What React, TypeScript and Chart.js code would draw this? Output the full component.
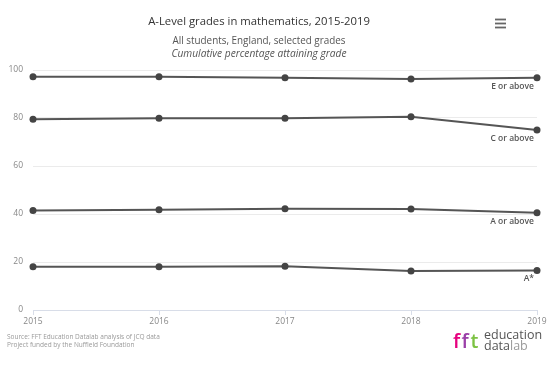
import React, { useEffect, useRef } from "react";
import { Chart, registerables } from "chart.js";

Chart.register(...registerables);

const years = ["2015", "2016", "2017", "2018", "2019"];
const seriesNames = ["E or above", "C or above", "A or above", "A*"];
const eOrAbove = [97.2, 97.2, 96.8, 96.2, 96.8];
const cOrAbove = [79.5, 79.9, 79.9, 80.5, 75.0];
const aOrAbove = [41.5, 41.8, 42.2, 42.1, 40.5];
const aStar = [18.0, 18.0, 18.2, 16.2, 16.5];
const yTicks = [0, 20, 40, 60, 80, 100];

const titleText = "A-Level grades in mathematics, 2015-2019";
const subtitle1 = "All students, England, selected grades";
const subtitle2 = "Cumulative percentage attaining grade";
const source1 = "Source: FFT Education Datalab analysis of JCQ data";
const source2 = "Project funded by the Nuffield Foundation";

const FONT = "'Open Sans', 'Noto Sans', sans-serif";
const LINE = "#555555";

const decorPlugin = {
  id: "decor",
  afterDatasetsDraw(chart: any) {
    const ctx = chart.ctx;
    ctx.save();
    ctx.font = `600 8.5px ${FONT}`;
    ctx.fillStyle = "#555";
    ctx.textAlign = "right";
    ctx.textBaseline = "middle";
    chart.data.datasets.forEach((ds: any, i: number) => {
      const meta = chart.getDatasetMeta(i);
      const pt = meta.data[meta.data.length - 1];
      ctx.fillText(ds.label, pt.x - 3, pt.y + 8.5);
    });
    ctx.restore();
  },
  afterDraw(chart: any) {
    const ctx = chart.ctx;
    ctx.save();
    ctx.textAlign = "center";
    ctx.textBaseline = "middle";
    ctx.fillStyle = "#333";
    ctx.font = `11.3px ${FONT}`;
    ctx.fillText(titleText, 259, 21.5);
    ctx.fillStyle = "#555";
    ctx.font = `9.9px ${FONT}`;
    ctx.fillText(subtitle1, 259, 41.5);
    ctx.font = `italic 10.2px ${FONT}`;
    ctx.fillText(subtitle2, 259, 54.5);

    ctx.strokeStyle = "#666";
    ctx.lineWidth = 1.8;
    [19.5, 23.5, 27.5].forEach((y) => {
      ctx.beginPath();
      ctx.moveTo(495, y);
      ctx.lineTo(506, y);
      ctx.stroke();
    });

    ctx.textAlign = "left";
    ctx.fillStyle = "#999";
    ctx.font = `6.5px ${FONT}`;
    ctx.fillText(source1, 7, 337);
    ctx.fillText(source2, 7, 345);

    ctx.textBaseline = "alphabetic";
    ctx.font = `600 20px ${FONT}`;
    ctx.fillStyle = "#e6007e";
    ctx.fillText("f", 453, 348);
    ctx.fillStyle = "#9b3fa8";
    ctx.fillText("f", 461.5, 348);
    ctx.fillStyle = "#7cc242";
    ctx.fillText("t", 470.5, 348);
    ctx.font = `12.5px ${FONT}`;
    ctx.fillStyle = "#555";
    ctx.fillText("education", 484, 339);
    ctx.fillText("data", 484, 350);
    const w = ctx.measureText("data").width;
    ctx.fillStyle = "#999";
    ctx.fillText("lab", 484 + w, 350);
    ctx.restore();
  },
};

export default function App() {
  const ref = useRef<HTMLCanvasElement>(null);
  useEffect(() => {
    document.body.style.margin = "0";
    const values = [eOrAbove, cOrAbove, aOrAbove, aStar];
    const chart = new Chart(ref.current!, {
      type: "line",
      data: {
        labels: years,
        datasets: values.map((v, i) => ({
          label: seriesNames[i],
          data: v,
          borderColor: LINE,
          backgroundColor: LINE,
          borderWidth: 2,
          pointRadius: 3.5,
          pointBackgroundColor: "#444",
          pointBorderWidth: 0,
          tension: 0,
        })),
      },
      options: {
        responsive: false,
        animation: false,
        layout: { padding: { left: 0, right: 16, top: 70, bottom: 0 } },
        plugins: { legend: { display: false }, tooltip: { enabled: false }, title: { display: false } },
        scales: {
          x: {
            offset: false,
            grid: { drawOnChartArea: false, drawTicks: true, tickLength: 5, color: "#d8dde8" },
            border: { display: true, color: "#d8dde8" },
            ticks: { color: "#888", font: { family: FONT, size: 8.5 }, padding: 1, maxRotation: 0 },
            afterFit: (s: any) => { s.height = 56; },
          },
          y: {
            min: 0,
            max: 100,
            afterBuildTicks: (s: any) => { s.ticks = yTicks.map((v) => ({ value: v })); },
            grid: { color: "#ebebeb", drawTicks: false },
            border: { display: false },
            ticks: { color: "#888", font: { family: FONT, size: 8.5 }, padding: 10 },
            afterFit: (s: any) => { s.width = 33; },
          },
        },
      },
      plugins: [decorPlugin],
    });
    return () => chart.destroy();
  }, []);
  return (
    <div style={{ position: "absolute", left: 0, top: 0, width: 553, height: 366, background: "#fff" }}>
      <canvas ref={ref} width={553} height={366} style={{ width: 553, height: 366 }} />
    </div>
  );
}
